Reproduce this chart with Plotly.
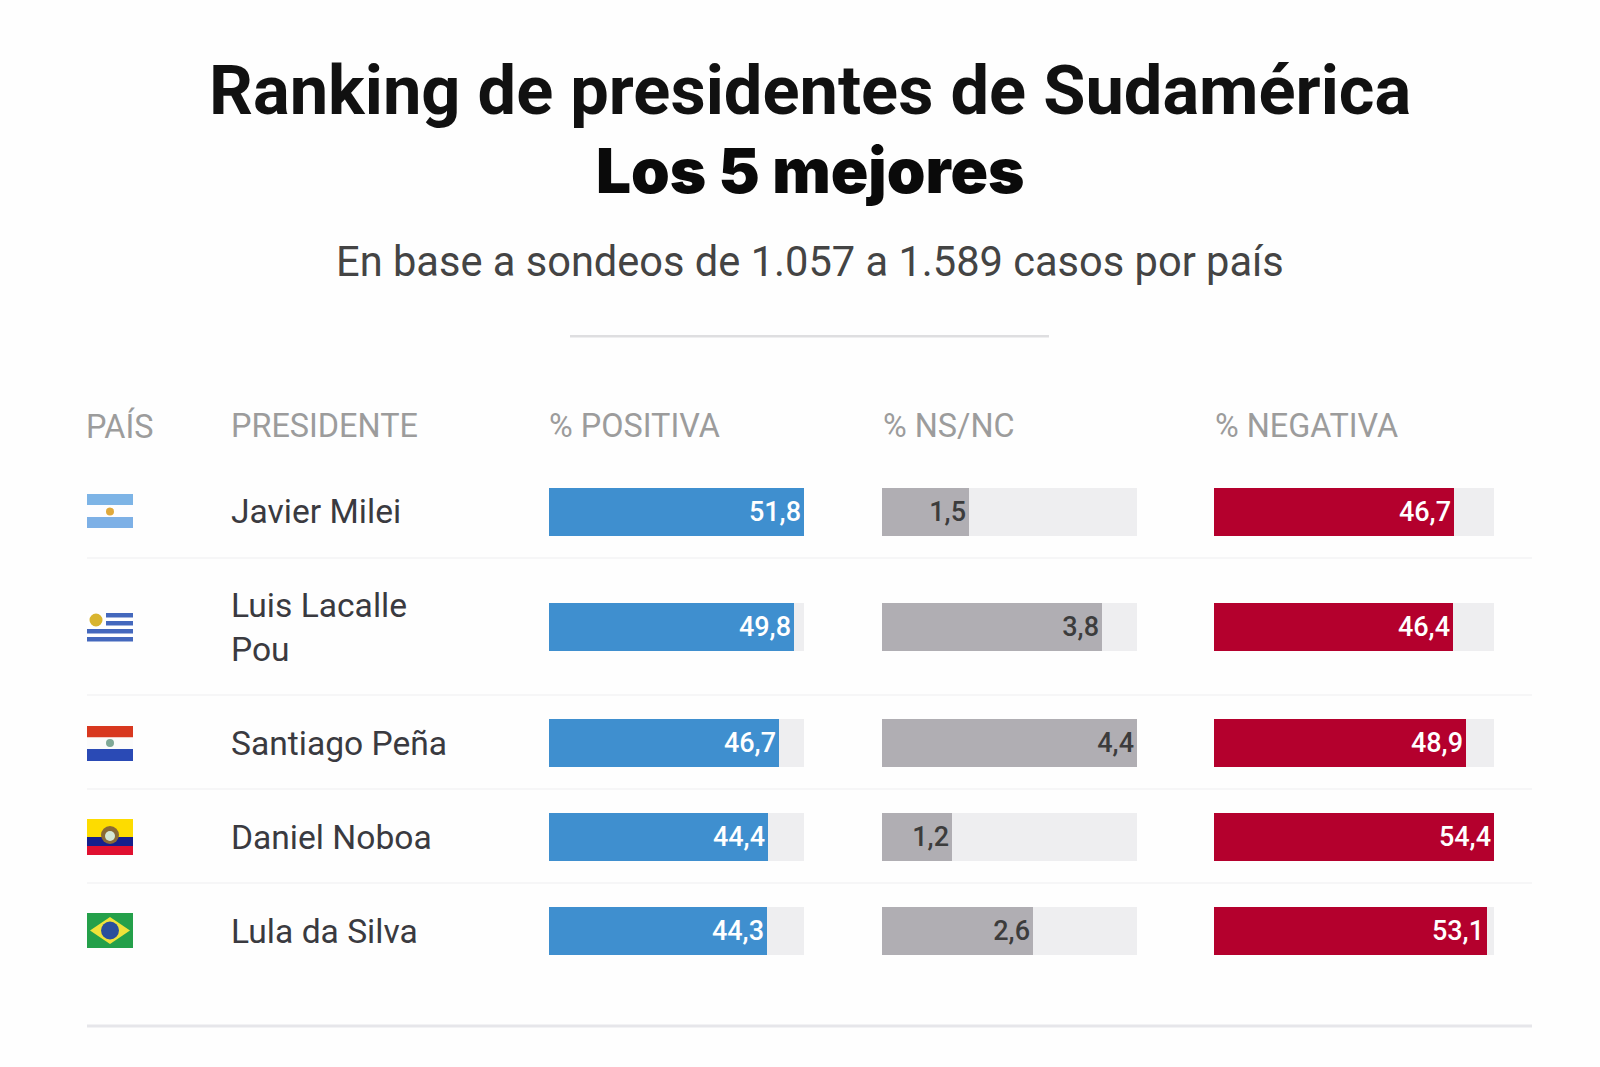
import plotly.graph_objects as go

# ---- data ----
countries = ["Argentina", "Uruguay", "Paraguay", "Ecuador", "Brasil"]
presidents = ["Javier Milei", "Luis Lacalle<br>Pou", "Santiago Peña", "Daniel Noboa", "Lula da Silva"]
positive = [51.8, 49.8, 46.7, 44.4, 44.3]
ns_nc = [1.5, 3.8, 4.4, 1.2, 2.6]
negative = [46.7, 46.4, 48.9, 54.4, 53.1]
headers = ["PAÍS", "PRESIDENTE", "% POSITIVA", "% NS/NC", "% NEGATIVA"]
title_1 = "Ranking de presidentes de Sudamérica"
title_2 = "Los 5 mejores"
subtitle = "En base a sondeos de 1.057 a 1.589 casos por país"

# ---- layout constants (pixels) ----
W, H = 1600, 1067
ROW_Y = [511.5, 627, 743, 837, 931]
BAR_H = 48
FONT = "Roboto"
header_x = [84, 229, 546.5, 881, 1213]
columns = [
    (positive, 549, 804, "#3f8fcf", "#ffffff"),
    (ns_nc, 882, 1137, "#b0aeb3", "#3c3c3c"),
    (negative, 1214, 1494, "#b4002d", "#ffffff"),
]
TRACK = "#eeeef0"


def px(x):
    return x / W


fig = go.Figure()
layout_axes = {}
for i, (vals, x0, x1, col, tcol) in enumerate(columns):
    suffix = "" if i == 0 else str(i + 1)
    top = max(vals)
    layout_axes["xaxis" + suffix] = dict(
        domain=[px(x0), px(x1)], range=[0, top], visible=False, fixedrange=True,
        anchor="y",
    )
    fig.add_trace(go.Bar(
        x=[top] * len(vals), y=ROW_Y, width=BAR_H, orientation="h",
        marker=dict(color=TRACK, line_width=0), xaxis="x" + suffix, yaxis="y",
        hoverinfo="skip", showlegend=False,
    ))
    fig.add_trace(go.Bar(
        x=vals, y=ROW_Y, width=BAR_H, orientation="h",
        marker=dict(color=col, line_width=0), xaxis="x" + suffix, yaxis="y",
        text=[f"{v:.1f}".replace(".", ",") for v in vals],
        textposition="inside", insidetextanchor="end", textangle=0,
        constraintext="none",
        textfont=dict(family=FONT, size=27, color=tcol, weight=500),
        showlegend=False, name=headers[i + 2],
    ))

ann = []


def text(x, y, s, size, color, anchor="left", weight=400, family=FONT):
    ann.append(dict(
        x=px(x), y=y, xref="paper", yref="y", text=s, showarrow=False,
        xanchor=anchor, yanchor="middle", align="left",
        font=dict(family=family, size=size, color=color, weight=weight),
    ))


text(810, 90, title_1, 68.6, "#111111", "center", 700)
text(810, 170, title_2, 62, "#0a0a0a", "center", 900, "Inter, Roboto")
text(810, 261, subtitle, 41.6, "#444444", "center", 400)
for hx, h in zip(header_x, headers):
    text(hx, 426, h, 32.4, "#9c9c9c")
for ry, p in zip(ROW_Y, presidents):
    text(229, ry, p, 33.6, "#3a3a40")

shapes = []


def rect(x0, y0, x1, y1, color):
    shapes.append(dict(type="rect", xref="paper", yref="y", x0=px(x0), x1=px(x1),
                       y0=y0, y1=y1, fillcolor=color, line_width=0, layer="above"))


def circ(cx, cy, r, color):
    shapes.append(dict(type="circle", xref="paper", yref="y", x0=px(cx - r), x1=px(cx + r),
                       y0=cy - r, y1=cy + r, fillcolor=color, line_width=0, layer="above"))


# dividers
rect(570, 335, 1049, 337.5, "#dedee0")
for dy in [558, 695, 789, 883]:
    rect(87, dy - 0.75, 1532, dy + 0.75, "#f3f3f5")
rect(87, 1024.5, 1532, 1027.5, "#e6e6ea")

# flags
FX0, FX1 = 87, 133
FXC = (FX0 + FX1) / 2
# Argentina
rect(FX0, 494, FX1, 505, "#7db4e6")
rect(FX0, 505, FX1, 517, "#fdfdff")
rect(FX0, 517, FX1, 528, "#7db0e6")
circ(FXC, 511.5, 4, "#e0a93c")
# Uruguay
rect(FX0, 613, FX1, 642, "#ffffff")
for (yy, xs) in [(613, 106), (621, 106), (629, 87), (637, 87)]:
    rect(xs, yy, FX1, yy + 4.5, "#4468bd")
circ(96, 620, 6.5, "#d9b52f")
# Paraguay
rect(FX0, 726, FX1, 737.5, "#d8381f")
rect(FX0, 737.5, FX1, 749, "#fbfbfb")
rect(FX0, 749, FX1, 761, "#2a4ab5")
circ(FXC, 743, 4, "#7fa897")
# Ecuador
rect(FX0, 819, FX1, 837, "#fddc00")
rect(FX0, 837, FX1, 846, "#151f8c")
rect(FX0, 846, FX1, 855, "#e01030")
circ(FXC, 835, 9, "#8a6a35")
circ(FXC, 836, 5, "#d5e8d5")
# Brasil
rect(FX0, 913, FX1, 948, "#24a04a")
shapes.append(dict(type="path", xref="paper", yref="y", fillcolor="#efe23a", line_width=0, layer="above",
                   path=f"M {px(FX0+3)} 930.5 L {px(FXC)} 917 L {px(FX1-3)} 930.5 L {px(FXC)} 944 Z"))
circ(FXC, 930.5, 9, "#2a4f9c")

fig.update_layout(
    width=W, height=H, margin=dict(l=0, r=0, t=0, b=0),
    paper_bgcolor="#fefefe", plot_bgcolor="rgba(0,0,0,0)",
    barmode="overlay", bargap=0, showlegend=False,
    yaxis=dict(domain=[0, 1], range=[H, 0], visible=False, fixedrange=True),
    annotations=ann, shapes=shapes,
    **layout_axes,
)
fig.write_html("out.html", config=dict(displayModeBar=False),
               post_script="document.body.style.margin='0';")
